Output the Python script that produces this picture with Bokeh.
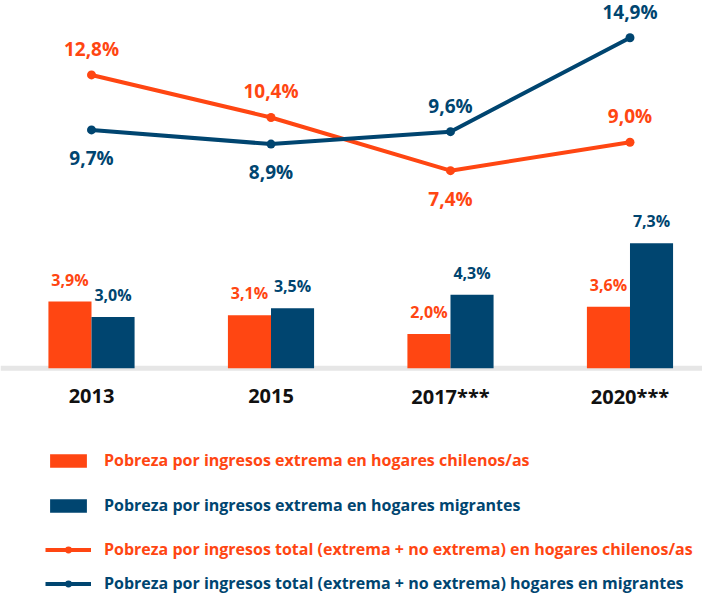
from bokeh.plotting import figure
from bokeh.models import Range1d, Span, Legend, LegendItem, ColumnDataSource
from bokeh.core.properties import value
from bokeh.transform import dodge
from bokeh.embed import file_html
from bokeh.resources import INLINE

# ---- data ----
years = ["2013", "2015", "2017***", "2020***"]
extreme_chile = [3.9, 3.1, 2.0, 3.6]
extreme_migr = [3.0, 3.5, 4.3, 7.3]
total_chile = [12.8, 10.4, 7.4, 9.0]
total_migr = [9.7, 8.9, 9.6, 14.9]
side_chile = ["above", "above", "below", "above"]
side_migr = ["below", "below", "above", "above"]

legend_labels = [
    "Pobreza por ingresos extrema en hogares chilenos/as",
    "Pobreza por ingresos extrema en hogares migrantes",
    "Pobreza por ingresos total (extrema + no extrema) en hogares chilenos/as",
    "Pobreza por ingresos total (extrema + no extrema) hogares en migrantes",
]

ORANGE = "#FF4612"
BLUE = "#004570"
GRAY = "#E6E6E6"
FONT = "Open Sans"


def pct(v):
    return f"{v:.1f}%".replace(".", ",")


xs = list(range(len(years)))
src = ColumnDataSource(dict(
    x=xs, year=years,
    ec=extreme_chile, em=extreme_migr,
    ec_lbl=[pct(v) for v in extreme_chile], em_lbl=[pct(v) for v in extreme_migr],
    tc=total_chile, tm=total_migr,
    tc_lbl=[pct(v) for v in total_chile], tm_lbl=[pct(v) for v in total_migr],
    tc_off=[-26 if s == "above" else 28 for s in side_chile],
    tm_off=[-26 if s == "above" else 28 for s in side_migr],
    zero=[0] * len(years),
))

p = figure(width=702, height=595, output_backend="svg", toolbar_location=None,
           x_range=Range1d(-0.507, 3.404), y_range=Range1d(-13.29, 21.50),
           x_axis_type=None, y_axis_type=None, min_border=0,
           outline_line_color=None, background_fill_color="white",
           border_fill_color="white")
p.extra_y_ranges = {"lines": Range1d(-16.57, 17.00)}
p.grid.visible = False

# baseline
p.add_layout(Span(location=0, dimension="width", line_color=GRAY,
                  line_width=5, level="underlay"))

bw = 0.24
r_bc = p.vbar(x=dodge("x", -bw / 2, range=p.x_range), top="ec", width=bw,
              fill_color=ORANGE, line_color=None, source=src)
r_bm = p.vbar(x=dodge("x", bw / 2, range=p.x_range), top="em", width=bw,
              fill_color=BLUE, line_color=None, source=src)

p.text(x=dodge("x", -bw / 2, range=p.x_range), y="ec", text="ec_lbl", y_offset=-22,
       text_align="center", text_baseline="middle", text_font=value(FONT),
       text_font_style="bold", text_font_size="16px", text_color=ORANGE, source=src)
p.text(x=dodge("x", bw / 2, range=p.x_range), y="em", text="em_lbl", y_offset=-22,
       text_align="center", text_baseline="middle", text_font=value(FONT),
       text_font_style="bold", text_font_size="16px", text_color=BLUE, source=src)

# category labels
p.text(x="x", y="zero", text="year", y_offset=28, text_align="center",
       text_baseline="middle", text_font=value(FONT), text_font_style="bold",
       text_font_size="20px", text_color="#111111", source=src)

# lines
r_lc = p.line(x="x", y="tc", line_color=ORANGE, line_width=4, y_range_name="lines", source=src)
r_sc = p.scatter(x="x", y="tc", size=9, fill_color=ORANGE, line_color=None,
                 y_range_name="lines", source=src)
r_lm = p.line(x="x", y="tm", line_color=BLUE, line_width=4, y_range_name="lines", source=src)
r_sm = p.scatter(x="x", y="tm", size=9, fill_color=BLUE, line_color=None,
                 y_range_name="lines", source=src)

p.text(x="x", y="tc", text="tc_lbl", y_offset="tc_off", text_align="center",
       text_baseline="middle", text_font=value(FONT), text_font_style="bold",
       text_font_size="19px", text_color=ORANGE, y_range_name="lines", source=src)
p.text(x="x", y="tm", text="tm_lbl", y_offset="tm_off", text_align="center",
       text_baseline="middle", text_font=value(FONT), text_font_style="bold",
       text_font_size="19px", text_color=BLUE, y_range_name="lines", source=src)

# legends (one per entry so each label keeps its own colour)
entries = [
    (legend_labels[0], [r_bc], ORANGE, 124),
    (legend_labels[1], [r_bm], BLUE, 79),
    (legend_labels[2], [r_lc, r_sc], ORANGE, 35),
    (legend_labels[3], [r_lm, r_sm], BLUE, 1),
]
for label, rends, color, ypos in entries:
    leg = Legend(items=[LegendItem(label=label, renderers=rends)],
                 location=(45, ypos), orientation="vertical",
                 glyph_width=46, glyph_height=17, label_height=20,
                 label_standoff=13, padding=0, margin=0, spacing=0,
                 border_line_alpha=0, background_fill_alpha=0,
                 label_text_font=FONT, label_text_font_style="bold",
                 label_text_font_size="16px", label_text_color=color,
                 label_text_baseline="middle")
    p.add_layout(leg, "center")

open("out.html", "w").write(file_html(p, INLINE))
